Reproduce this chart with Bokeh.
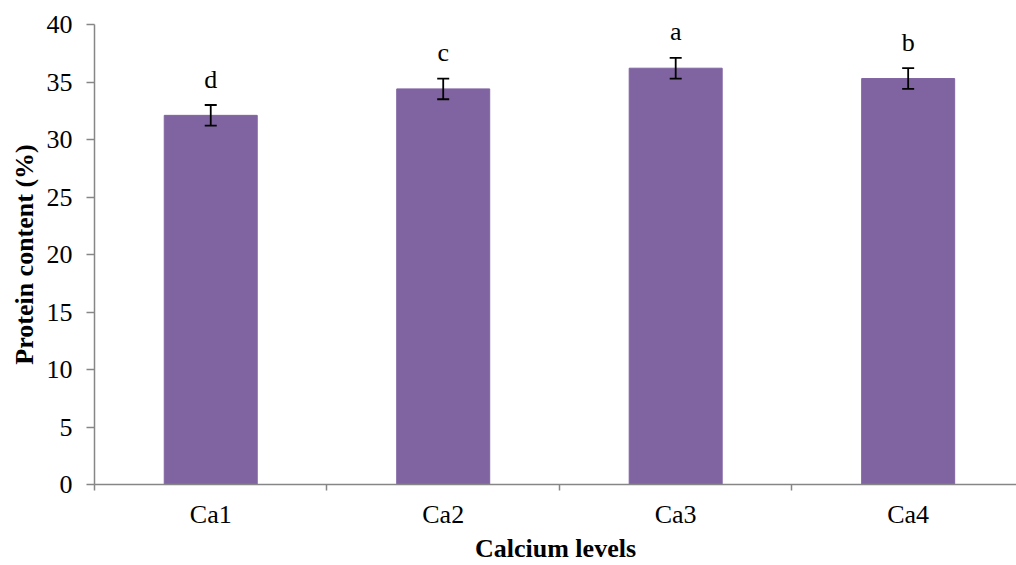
from bokeh.plotting import figure
from bokeh.models import ColumnDataSource, Whisker, TeeHead, FixedTicker, Range1d
from bokeh.core.properties import value
from bokeh.embed import file_html
from bokeh.resources import INLINE

# Protein content per calcium level
categories = ["Ca1", "Ca2", "Ca3", "Ca4"]
protein = [32.1, 34.4, 36.2, 35.3]
error = [0.9, 0.9, 0.9, 0.9]
letters = ["d", "c", "a", "b"]

FONT = "Liberation Serif"
BAR_COLOR = "#8064A2"
AXIS_COLOR = "#868686"
FS = "26px"

xs = [i + 0.5 for i in range(len(categories))]
source = ColumnDataSource(dict(
    x=xs,
    top=protein,
    upper=[v + e for v, e in zip(protein, error)],
    lower=[v - e for v, e in zip(protein, error)],
    letter=letters,
))

p = figure(
    width=1016, height=565,
    x_range=Range1d(0, 3.966), y_range=Range1d(0, 40),
    output_backend="svg", toolbar_location=None,
    min_border_left=94, min_border_right=0,
    min_border_top=24, min_border_bottom=81,
)
p.outline_line_color = None
p.xgrid.grid_line_color = None
p.ygrid.grid_line_color = None

p.vbar(x="x", top="top", bottom=0, width=0.40, source=source,
       fill_color=BAR_COLOR, line_color=BAR_COLOR)

whisker = Whisker(
    base="x", upper="upper", lower="lower", source=source,
    line_color="black", line_width=1.8, level="overlay",
    upper_head=TeeHead(size=12, line_color="black", line_width=1.8),
    lower_head=TeeHead(size=12, line_color="black", line_width=1.8),
)
p.add_layout(whisker)

p.text(x="x", y="upper", text="letter", source=source,
       text_font=value(FONT), text_font_size=FS, text_color="black",
       text_align="center", text_baseline="alphabetic", y_offset=-26)

# x axis: labels centred on bars, ticks on category boundaries
p.xaxis.ticker = FixedTicker(ticks=xs, minor_ticks=[0, 1, 2, 3, 4])
p.xaxis.major_label_overrides = {x: c for x, c in zip(xs, categories)}
p.xaxis.major_tick_out = 0
p.xaxis.major_tick_in = 0
p.xaxis.minor_tick_out = 6
p.xaxis.minor_tick_in = 0
p.xaxis.minor_tick_line_color = AXIS_COLOR
p.xaxis.major_label_standoff = 9
p.xaxis.axis_label = "Calcium levels"
p.xaxis.axis_label_standoff = 2

# y axis
p.yaxis.ticker = FixedTicker(ticks=list(range(0, 41, 5)))
p.yaxis.major_tick_out = 8
p.yaxis.major_tick_in = 0
p.yaxis.minor_tick_line_color = None
p.yaxis.major_label_standoff = 14
p.yaxis.axis_label = "Protein content (%)"
p.yaxis.axis_label_standoff = 5

for ax in (p.xaxis, p.yaxis):
    ax.axis_line_color = AXIS_COLOR
    ax.axis_line_width = 1.5
    ax.major_tick_line_color = AXIS_COLOR
    ax.major_tick_line_width = 1.5
    ax.minor_tick_line_width = 1.5
    ax.major_label_text_font = FONT
    ax.major_label_text_font_size = FS
    ax.major_label_text_color = "black"
    ax.axis_label_text_font = FONT
    ax.axis_label_text_font_size = FS
    ax.axis_label_text_font_style = "bold"
    ax.axis_label_text_color = "black"

open("out.html", "w").write(file_html(p, INLINE))
